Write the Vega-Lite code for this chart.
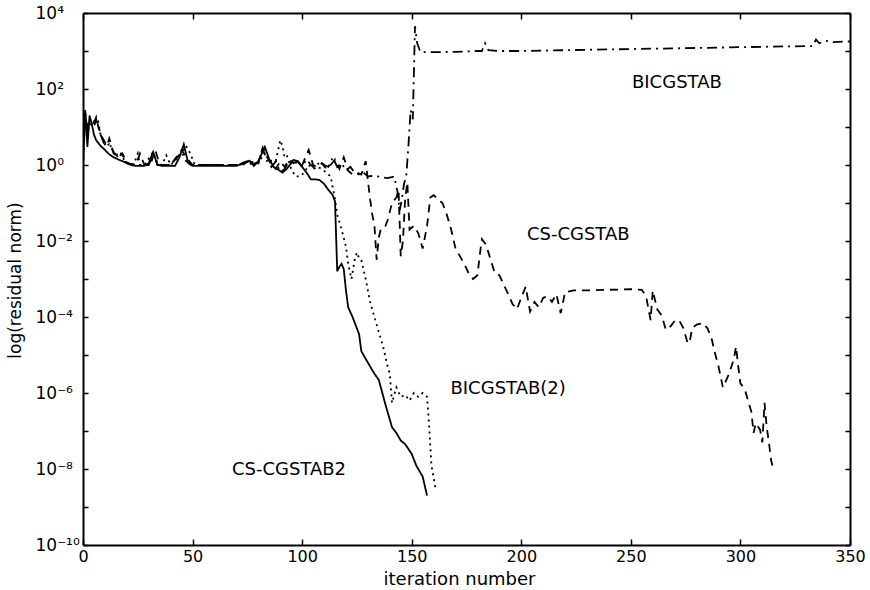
{
  "$schema": "https://vega.github.io/schema/vega-lite/v6.json",
  "width": 767,
  "height": 532,
  "autosize": {"type": "none"},
  "padding": {"left": 83, "top": 13, "right": 20, "bottom": 45},
  "background": "white",
  "config": {
    "view": {"stroke": null},
    "font": "DejaVu Sans",
    "axis": {
      "labelFont": "DejaVu Sans",
      "titleFont": "DejaVu Sans",
      "labelColor": "black",
      "titleColor": "black",
      "domainColor": "black",
      "domainWidth": 2,
      "tickColor": "black",
      "tickWidth": 1.5,
      "grid": false,
      "titleFontWeight": "normal"
    }
  },
  "datasets": {
    "curves": [
      {"s":"CS-CGSTAB2","it":0,"v":1},{"s":"CS-CGSTAB2","it":1,"v":28},{"s":"CS-CGSTAB2","it":2,"v":3},{"s":"CS-CGSTAB2","it":3,"v":20},{"s":"CS-CGSTAB2","it":4,"v":12},{"s":"CS-CGSTAB2","it":5,"v":6.3},{"s":"CS-CGSTAB2","it":6,"v":4.5},{"s":"CS-CGSTAB2","it":8,"v":3.2},{"s":"CS-CGSTAB2","it":10,"v":2.5},{"s":"CS-CGSTAB2","it":12,"v":1.9},{"s":"CS-CGSTAB2","it":14,"v":1.6},{"s":"CS-CGSTAB2","it":16,"v":1.4},{"s":"CS-CGSTAB2","it":18,"v":1.26},{"s":"CS-CGSTAB2","it":20,"v":1.12},{"s":"CS-CGSTAB2","it":22,"v":1},{"s":"CS-CGSTAB2","it":24,"v":0.95},{"s":"CS-CGSTAB2","it":28,"v":0.95},{"s":"CS-CGSTAB2","it":30,"v":1.12},{"s":"CS-CGSTAB2","it":32,"v":2.2},{"s":"CS-CGSTAB2","it":34,"v":1},{"s":"CS-CGSTAB2","it":36,"v":0.95},{"s":"CS-CGSTAB2","it":42,"v":0.95},{"s":"CS-CGSTAB2","it":44,"v":1.6},{"s":"CS-CGSTAB2","it":46,"v":3.5},{"s":"CS-CGSTAB2","it":48,"v":1.12},{"s":"CS-CGSTAB2","it":50,"v":0.95},{"s":"CS-CGSTAB2","it":60,"v":0.95},{"s":"CS-CGSTAB2","it":70,"v":0.95},{"s":"CS-CGSTAB2","it":74,"v":1.12},{"s":"CS-CGSTAB2","it":76,"v":1.3},{"s":"CS-CGSTAB2","it":78,"v":0.95},{"s":"CS-CGSTAB2","it":80,"v":1.26},{"s":"CS-CGSTAB2","it":83,"v":3.0},{"s":"CS-CGSTAB2","it":85,"v":1.4},{"s":"CS-CGSTAB2","it":87,"v":0.89},{"s":"CS-CGSTAB2","it":89,"v":0.76},{"s":"CS-CGSTAB2","it":91,"v":0.63},{"s":"CS-CGSTAB2","it":93,"v":0.79},{"s":"CS-CGSTAB2","it":96,"v":1.35},{"s":"CS-CGSTAB2","it":98,"v":1.26},{"s":"CS-CGSTAB2","it":100,"v":0.89},{"s":"CS-CGSTAB2","it":102,"v":0.63},{"s":"CS-CGSTAB2","it":104,"v":0.42},{"s":"CS-CGSTAB2","it":106,"v":0.42},{"s":"CS-CGSTAB2","it":108,"v":0.4},{"s":"CS-CGSTAB2","it":110,"v":0.32},{"s":"CS-CGSTAB2","it":112,"v":0.22},{"s":"CS-CGSTAB2","it":114,"v":0.16},{"s":"CS-CGSTAB2","it":115,"v":0.11},{"s":"CS-CGSTAB2","it":116,"v":0.0016},{"s":"CS-CGSTAB2","it":117,"v":0.0021},{"s":"CS-CGSTAB2","it":118,"v":0.0025},{"s":"CS-CGSTAB2","it":119,"v":0.0018},{"s":"CS-CGSTAB2","it":120,"v":5e-4},{"s":"CS-CGSTAB2","it":121,"v":1.8e-4},{"s":"CS-CGSTAB2","it":123,"v":1e-4},{"s":"CS-CGSTAB2","it":125,"v":5e-5},{"s":"CS-CGSTAB2","it":126,"v":3.5e-5},{"s":"CS-CGSTAB2","it":127,"v":1.26e-5},{"s":"CS-CGSTAB2","it":130,"v":6.3e-6},{"s":"CS-CGSTAB2","it":133,"v":3.2e-6},{"s":"CS-CGSTAB2","it":135,"v":2.2e-6},{"s":"CS-CGSTAB2","it":138,"v":5e-7},{"s":"CS-CGSTAB2","it":141,"v":1.26e-7},{"s":"CS-CGSTAB2","it":143,"v":8.9e-8},{"s":"CS-CGSTAB2","it":145,"v":5.6e-8},{"s":"CS-CGSTAB2","it":147,"v":4.5e-8},{"s":"CS-CGSTAB2","it":150,"v":2.5e-8},{"s":"CS-CGSTAB2","it":152,"v":1.26e-8},{"s":"CS-CGSTAB2","it":154,"v":7.9e-9},{"s":"CS-CGSTAB2","it":155,"v":6.3e-9},{"s":"CS-CGSTAB2","it":157,"v":2e-9},

      {"s":"BICGSTAB(2)","it":0,"v":20},{"s":"BICGSTAB(2)","it":1,"v":25},{"s":"BICGSTAB(2)","it":2,"v":7.9},{"s":"BICGSTAB(2)","it":3,"v":16},{"s":"BICGSTAB(2)","it":4,"v":12.6},{"s":"BICGSTAB(2)","it":6,"v":16},{"s":"BICGSTAB(2)","it":7,"v":14},{"s":"BICGSTAB(2)","it":8,"v":6.3},{"s":"BICGSTAB(2)","it":10,"v":3.5},{"s":"BICGSTAB(2)","it":12,"v":4.5},{"s":"BICGSTAB(2)","it":13,"v":2.5},{"s":"BICGSTAB(2)","it":15,"v":1.8},{"s":"BICGSTAB(2)","it":17,"v":2.2},{"s":"BICGSTAB(2)","it":19,"v":1.26},{"s":"BICGSTAB(2)","it":21,"v":1.12},{"s":"BICGSTAB(2)","it":23,"v":1},{"s":"BICGSTAB(2)","it":25,"v":2},{"s":"BICGSTAB(2)","it":26,"v":1},{"s":"BICGSTAB(2)","it":28,"v":1},{"s":"BICGSTAB(2)","it":32,"v":2.2},{"s":"BICGSTAB(2)","it":34,"v":1.12},{"s":"BICGSTAB(2)","it":36,"v":1},{"s":"BICGSTAB(2)","it":38,"v":1.8},{"s":"BICGSTAB(2)","it":40,"v":1},{"s":"BICGSTAB(2)","it":45,"v":2},{"s":"BICGSTAB(2)","it":47,"v":3.2},{"s":"BICGSTAB(2)","it":49,"v":2},{"s":"BICGSTAB(2)","it":51,"v":1},{"s":"BICGSTAB(2)","it":60,"v":1},{"s":"BICGSTAB(2)","it":70,"v":1},{"s":"BICGSTAB(2)","it":76,"v":1.26},{"s":"BICGSTAB(2)","it":80,"v":1.12},{"s":"BICGSTAB(2)","it":83,"v":2.2},{"s":"BICGSTAB(2)","it":86,"v":1.26},{"s":"BICGSTAB(2)","it":88,"v":1.26},{"s":"BICGSTAB(2)","it":90,"v":4.5},{"s":"BICGSTAB(2)","it":91,"v":3.2},{"s":"BICGSTAB(2)","it":92,"v":1.6},{"s":"BICGSTAB(2)","it":93,"v":1.8},{"s":"BICGSTAB(2)","it":95,"v":0.79},{"s":"BICGSTAB(2)","it":97,"v":0.5},{"s":"BICGSTAB(2)","it":99,"v":0.5},{"s":"BICGSTAB(2)","it":101,"v":0.63},{"s":"BICGSTAB(2)","it":103,"v":1},{"s":"BICGSTAB(2)","it":105,"v":0.79},{"s":"BICGSTAB(2)","it":107,"v":0.89},{"s":"BICGSTAB(2)","it":109,"v":0.79},{"s":"BICGSTAB(2)","it":111,"v":0.63},{"s":"BICGSTAB(2)","it":113,"v":0.5},{"s":"BICGSTAB(2)","it":114,"v":0.25},{"s":"BICGSTAB(2)","it":115,"v":0.126},{"s":"BICGSTAB(2)","it":116,"v":0.05},{"s":"BICGSTAB(2)","it":118,"v":0.02},{"s":"BICGSTAB(2)","it":120,"v":0.0071},{"s":"BICGSTAB(2)","it":121,"v":0.0025},{"s":"BICGSTAB(2)","it":122.5,"v":0.001},{"s":"BICGSTAB(2)","it":124,"v":0.0032},{"s":"BICGSTAB(2)","it":125,"v":0.005},{"s":"BICGSTAB(2)","it":126,"v":0.0035},{"s":"BICGSTAB(2)","it":127,"v":0.0032},{"s":"BICGSTAB(2)","it":129,"v":0.001},{"s":"BICGSTAB(2)","it":131,"v":2.5e-4},{"s":"BICGSTAB(2)","it":133,"v":1e-4},{"s":"BICGSTAB(2)","it":135,"v":4e-5},{"s":"BICGSTAB(2)","it":137,"v":1.6e-5},{"s":"BICGSTAB(2)","it":139,"v":5e-6},{"s":"BICGSTAB(2)","it":140,"v":3.2e-6},{"s":"BICGSTAB(2)","it":141,"v":5.5e-7},{"s":"BICGSTAB(2)","it":143,"v":1.4e-6},{"s":"BICGSTAB(2)","it":145,"v":7.9e-7},{"s":"BICGSTAB(2)","it":147,"v":8.9e-7},{"s":"BICGSTAB(2)","it":149,"v":6.3e-7},{"s":"BICGSTAB(2)","it":151,"v":1e-6},{"s":"BICGSTAB(2)","it":153,"v":7.9e-7},{"s":"BICGSTAB(2)","it":155,"v":1e-6},{"s":"BICGSTAB(2)","it":157,"v":7.9e-7},{"s":"BICGSTAB(2)","it":158,"v":1.26e-7},{"s":"BICGSTAB(2)","it":159,"v":1.26e-8},{"s":"BICGSTAB(2)","it":161,"v":2.8e-9},

      {"s":"CS-CGSTAB","it":0,"v":16},{"s":"CS-CGSTAB","it":1,"v":22},{"s":"CS-CGSTAB","it":2,"v":10},{"s":"CS-CGSTAB","it":3,"v":14},{"s":"CS-CGSTAB","it":5,"v":12.6},{"s":"CS-CGSTAB","it":6,"v":18},{"s":"CS-CGSTAB","it":7,"v":10},{"s":"CS-CGSTAB","it":9,"v":5},{"s":"CS-CGSTAB","it":11,"v":3.2},{"s":"CS-CGSTAB","it":12,"v":5},{"s":"CS-CGSTAB","it":14,"v":2},{"s":"CS-CGSTAB","it":16,"v":1.6},{"s":"CS-CGSTAB","it":18,"v":2},{"s":"CS-CGSTAB","it":20,"v":1.12},{"s":"CS-CGSTAB","it":24,"v":1},{"s":"CS-CGSTAB","it":26,"v":2},{"s":"CS-CGSTAB","it":28,"v":1},{"s":"CS-CGSTAB","it":31,"v":1.12},{"s":"CS-CGSTAB","it":33,"v":2.5},{"s":"CS-CGSTAB","it":35,"v":1},{"s":"CS-CGSTAB","it":40,"v":1},{"s":"CS-CGSTAB","it":45,"v":2.5},{"s":"CS-CGSTAB","it":47,"v":1.6},{"s":"CS-CGSTAB","it":50,"v":1},{"s":"CS-CGSTAB","it":55,"v":1},{"s":"CS-CGSTAB","it":60,"v":1},{"s":"CS-CGSTAB","it":70,"v":1},{"s":"CS-CGSTAB","it":75,"v":1.26},{"s":"CS-CGSTAB","it":80,"v":1.12},{"s":"CS-CGSTAB","it":82,"v":2.8},{"s":"CS-CGSTAB","it":84,"v":1.6},{"s":"CS-CGSTAB","it":86,"v":1},{"s":"CS-CGSTAB","it":88,"v":0.79},{"s":"CS-CGSTAB","it":90,"v":1.26},{"s":"CS-CGSTAB","it":92,"v":0.89},{"s":"CS-CGSTAB","it":94,"v":1.4},{"s":"CS-CGSTAB","it":96,"v":1.12},{"s":"CS-CGSTAB","it":98,"v":1.26},{"s":"CS-CGSTAB","it":100,"v":1},{"s":"CS-CGSTAB","it":103,"v":2.5},{"s":"CS-CGSTAB","it":105,"v":1},{"s":"CS-CGSTAB","it":107,"v":0.89},{"s":"CS-CGSTAB","it":109,"v":1.12},{"s":"CS-CGSTAB","it":111,"v":0.79},{"s":"CS-CGSTAB","it":113,"v":1},{"s":"CS-CGSTAB","it":115,"v":1.4},{"s":"CS-CGSTAB","it":117,"v":0.79},{"s":"CS-CGSTAB","it":119,"v":1.6},{"s":"CS-CGSTAB","it":121,"v":0.71},{"s":"CS-CGSTAB","it":123,"v":0.56},{"s":"CS-CGSTAB","it":125,"v":0.63},{"s":"CS-CGSTAB","it":127,"v":0.56},{"s":"CS-CGSTAB","it":129,"v":1.26},{"s":"CS-CGSTAB","it":130,"v":0.4},{"s":"CS-CGSTAB","it":131,"v":0.126},{"s":"CS-CGSTAB","it":132,"v":0.05},{"s":"CS-CGSTAB","it":133,"v":0.025},{"s":"CS-CGSTAB","it":134,"v":0.0032},{"s":"CS-CGSTAB","it":135,"v":0.0126},{"s":"CS-CGSTAB","it":136,"v":0.022},{"s":"CS-CGSTAB","it":138,"v":0.025},{"s":"CS-CGSTAB","it":139,"v":0.035},{"s":"CS-CGSTAB","it":141,"v":0.1},{"s":"CS-CGSTAB","it":143,"v":0.14},{"s":"CS-CGSTAB","it":144,"v":0.22},{"s":"CS-CGSTAB","it":145,"v":0.004},{"s":"CS-CGSTAB","it":146,"v":0.01},{"s":"CS-CGSTAB","it":147,"v":0.126},{"s":"CS-CGSTAB","it":148,"v":0.35},{"s":"CS-CGSTAB","it":149,"v":0.02},{"s":"CS-CGSTAB","it":151,"v":0.025},{"s":"CS-CGSTAB","it":153,"v":0.016},{"s":"CS-CGSTAB","it":155,"v":0.0063},{"s":"CS-CGSTAB","it":157,"v":0.025},{"s":"CS-CGSTAB","it":158.5,"v":0.14},{"s":"CS-CGSTAB","it":160,"v":0.16},{"s":"CS-CGSTAB","it":162,"v":0.126},{"s":"CS-CGSTAB","it":164,"v":0.1},{"s":"CS-CGSTAB","it":166,"v":0.05},{"s":"CS-CGSTAB","it":168,"v":0.02},{"s":"CS-CGSTAB","it":170,"v":0.0063},{"s":"CS-CGSTAB","it":172,"v":0.004},{"s":"CS-CGSTAB","it":174,"v":0.0025},{"s":"CS-CGSTAB","it":176,"v":0.0014},{"s":"CS-CGSTAB","it":178,"v":0.001},{"s":"CS-CGSTAB","it":180,"v":0.00126},{"s":"CS-CGSTAB","it":181,"v":0.004},{"s":"CS-CGSTAB","it":182,"v":0.0112},{"s":"CS-CGSTAB","it":184,"v":0.0079},{"s":"CS-CGSTAB","it":186,"v":0.0032},{"s":"CS-CGSTAB","it":188,"v":0.0014},{"s":"CS-CGSTAB","it":190,"v":0.00126},{"s":"CS-CGSTAB","it":192,"v":7.1e-4},{"s":"CS-CGSTAB","it":194,"v":4e-4},{"s":"CS-CGSTAB","it":196,"v":2.2e-4},{"s":"CS-CGSTAB","it":198,"v":1.6e-4},{"s":"CS-CGSTAB","it":200,"v":3.2e-4},{"s":"CS-CGSTAB","it":202,"v":6.3e-4},{"s":"CS-CGSTAB","it":204,"v":1.4e-4},{"s":"CS-CGSTAB","it":206,"v":2.5e-4},{"s":"CS-CGSTAB","it":208,"v":1.8e-4},{"s":"CS-CGSTAB","it":210,"v":3.2e-4},{"s":"CS-CGSTAB","it":212,"v":3.5e-4},{"s":"CS-CGSTAB","it":214,"v":2.5e-4},{"s":"CS-CGSTAB","it":216,"v":4e-4},{"s":"CS-CGSTAB","it":218,"v":1.26e-4},{"s":"CS-CGSTAB","it":220,"v":4.5e-4},{"s":"CS-CGSTAB","it":224,"v":5e-4},{"s":"CS-CGSTAB","it":230,"v":5e-4},{"s":"CS-CGSTAB","it":240,"v":5.2e-4},{"s":"CS-CGSTAB","it":250,"v":5.4e-4},{"s":"CS-CGSTAB","it":255,"v":5.2e-4},{"s":"CS-CGSTAB","it":257,"v":3.4e-4},{"s":"CS-CGSTAB","it":259,"v":8.3e-5},{"s":"CS-CGSTAB","it":260,"v":5e-4},{"s":"CS-CGSTAB","it":262,"v":1.6e-4},{"s":"CS-CGSTAB","it":264,"v":1.12e-4},{"s":"CS-CGSTAB","it":266,"v":4.6e-5},{"s":"CS-CGSTAB","it":268,"v":5.6e-5},{"s":"CS-CGSTAB","it":270,"v":7.9e-5},{"s":"CS-CGSTAB","it":272,"v":8.3e-5},{"s":"CS-CGSTAB","it":274,"v":5e-5},{"s":"CS-CGSTAB","it":276,"v":2e-5},{"s":"CS-CGSTAB","it":277,"v":2.5e-5},{"s":"CS-CGSTAB","it":278,"v":5.1e-5},{"s":"CS-CGSTAB","it":280,"v":6.3e-5},{"s":"CS-CGSTAB","it":283,"v":6.9e-5},{"s":"CS-CGSTAB","it":285,"v":5e-5},{"s":"CS-CGSTAB","it":287,"v":2.5e-5},{"s":"CS-CGSTAB","it":288,"v":1.35e-5},{"s":"CS-CGSTAB","it":290,"v":5e-6},{"s":"CS-CGSTAB","it":292,"v":1.4e-6},{"s":"CS-CGSTAB","it":294,"v":2.5e-6},{"s":"CS-CGSTAB","it":295,"v":3.4e-6},{"s":"CS-CGSTAB","it":297,"v":7.9e-6},{"s":"CS-CGSTAB","it":298,"v":1.66e-5},{"s":"CS-CGSTAB","it":299,"v":5e-6},{"s":"CS-CGSTAB","it":300,"v":1.8e-6},{"s":"CS-CGSTAB","it":302,"v":1.26e-6},{"s":"CS-CGSTAB","it":303,"v":7.9e-7},{"s":"CS-CGSTAB","it":305,"v":3.2e-7},{"s":"CS-CGSTAB","it":306,"v":8.9e-8},{"s":"CS-CGSTAB","it":307,"v":1.6e-7},{"s":"CS-CGSTAB","it":309,"v":1.07e-7},{"s":"CS-CGSTAB","it":310,"v":5e-8},{"s":"CS-CGSTAB","it":311,"v":5.5e-7},{"s":"CS-CGSTAB","it":312,"v":1.26e-7},{"s":"CS-CGSTAB","it":313,"v":5e-8},{"s":"CS-CGSTAB","it":314,"v":1.7e-8},{"s":"CS-CGSTAB","it":315,"v":1e-8},

      {"s":"BICGSTAB","it":0,"v":1},{"s":"BICGSTAB","it":1,"v":20},{"s":"BICGSTAB","it":2,"v":6.3},{"s":"BICGSTAB","it":3,"v":12.6},{"s":"BICGSTAB","it":5,"v":10},{"s":"BICGSTAB","it":6,"v":16},{"s":"BICGSTAB","it":8,"v":6.3},{"s":"BICGSTAB","it":10,"v":3.2},{"s":"BICGSTAB","it":12,"v":3.5},{"s":"BICGSTAB","it":14,"v":2.2},{"s":"BICGSTAB","it":16,"v":1.6},{"s":"BICGSTAB","it":18,"v":1.8},{"s":"BICGSTAB","it":20,"v":1.12},{"s":"BICGSTAB","it":24,"v":1},{"s":"BICGSTAB","it":30,"v":1},{"s":"BICGSTAB","it":32,"v":2},{"s":"BICGSTAB","it":34,"v":1},{"s":"BICGSTAB","it":40,"v":1},{"s":"BICGSTAB","it":45,"v":2.2},{"s":"BICGSTAB","it":47,"v":1.26},{"s":"BICGSTAB","it":50,"v":1},{"s":"BICGSTAB","it":60,"v":1},{"s":"BICGSTAB","it":70,"v":1},{"s":"BICGSTAB","it":80,"v":1.12},{"s":"BICGSTAB","it":82,"v":2.8},{"s":"BICGSTAB","it":84,"v":1.26},{"s":"BICGSTAB","it":86,"v":0.89},{"s":"BICGSTAB","it":88,"v":1.26},{"s":"BICGSTAB","it":90,"v":0.63},{"s":"BICGSTAB","it":92,"v":0.79},{"s":"BICGSTAB","it":94,"v":1.26},{"s":"BICGSTAB","it":96,"v":1},{"s":"BICGSTAB","it":98,"v":1.26},{"s":"BICGSTAB","it":100,"v":0.89},{"s":"BICGSTAB","it":102,"v":1.4},{"s":"BICGSTAB","it":104,"v":1},{"s":"BICGSTAB","it":106,"v":0.79},{"s":"BICGSTAB","it":108,"v":1.26},{"s":"BICGSTAB","it":110,"v":1},{"s":"BICGSTAB","it":112,"v":0.89},{"s":"BICGSTAB","it":114,"v":1.6},{"s":"BICGSTAB","it":116,"v":0.89},{"s":"BICGSTAB","it":118,"v":1.12},{"s":"BICGSTAB","it":120,"v":0.71},{"s":"BICGSTAB","it":122,"v":0.89},{"s":"BICGSTAB","it":124,"v":0.63},{"s":"BICGSTAB","it":126,"v":0.56},{"s":"BICGSTAB","it":128,"v":0.63},{"s":"BICGSTAB","it":130,"v":0.5},{"s":"BICGSTAB","it":133,"v":0.52},{"s":"BICGSTAB","it":136,"v":0.48},{"s":"BICGSTAB","it":139,"v":0.45},{"s":"BICGSTAB","it":142,"v":0.5},{"s":"BICGSTAB","it":143.5,"v":0.2},{"s":"BICGSTAB","it":144.5,"v":0.063},{"s":"BICGSTAB","it":145.5,"v":0.126},{"s":"BICGSTAB","it":146.5,"v":0.32},{"s":"BICGSTAB","it":147.5,"v":0.5},{"s":"BICGSTAB","it":148.5,"v":3.2},{"s":"BICGSTAB","it":149.5,"v":28},{"s":"BICGSTAB","it":150.5,"v":16},{"s":"BICGSTAB","it":151.5,"v":4500},{"s":"BICGSTAB","it":152.5,"v":1600},{"s":"BICGSTAB","it":154,"v":930},{"s":"BICGSTAB","it":160,"v":930},{"s":"BICGSTAB","it":170,"v":950},{"s":"BICGSTAB","it":180,"v":1000},{"s":"BICGSTAB","it":182,"v":1000},{"s":"BICGSTAB","it":183.5,"v":1600},{"s":"BICGSTAB","it":185,"v":1050},{"s":"BICGSTAB","it":190,"v":1000},{"s":"BICGSTAB","it":200,"v":1000},{"s":"BICGSTAB","it":220,"v":1050},{"s":"BICGSTAB","it":240,"v":1100},{"s":"BICGSTAB","it":260,"v":1150},{"s":"BICGSTAB","it":280,"v":1200},{"s":"BICGSTAB","it":300,"v":1260},{"s":"BICGSTAB","it":320,"v":1320},{"s":"BICGSTAB","it":333,"v":1350},{"s":"BICGSTAB","it":334.5,"v":2000},{"s":"BICGSTAB","it":336,"v":1600},{"s":"BICGSTAB","it":339,"v":1860},{"s":"BICGSTAB","it":342,"v":1700},{"s":"BICGSTAB","it":348,"v":1780},{"s":"BICGSTAB","it":350,"v":1780}
    ],
    "labels": [
      {"label": "BICGSTAB", "it": 271, "v": 145},
      {"label": "CS-CGSTAB", "it": 226, "v": 0.0145},
      {"label": "BICGSTAB(2)", "it": 194, "v": 1.26e-6},
      {"label": "CS-CGSTAB2", "it": 94, "v": 9.3e-9}
    ]
  },
  "layer": [
    {
      "data": {"name": "curves"},
      "mark": {"type": "line", "color": "black", "strokeWidth": 1.8, "clip": true},
      "encoding": {
        "x": {
          "field": "it", "type": "quantitative",
          "scale": {"domain": [0, 350], "nice": false, "zero": false},
          "axis": {
            "orient": "bottom",
            "values": [0, 50, 100, 150, 200, 250, 300, 350],
            "format": "d",
            "labelFontSize": 16,
            "labelPadding": 9,
            "labelFlush": false,
            "tickSize": -6,
            "title": "iteration number",
            "titleFontSize": 18,
            "titleX": 376,
            "titleY": 25,
            "titleBaseline": "top"
          }
        },
        "y": {
          "field": "v", "type": "quantitative",
          "scale": {"type": "log", "domain": [1e-10, 10000], "nice": false},
          "axis": {
            "orient": "left",
            "values": [1e-10, 1e-9, 1e-8, 1e-7, 1e-6, 1e-5, 1e-4, 1e-3, 0.01, 0.1, 1, 10, 100, 1000, 10000],
            "labelExpr": "datum.value > 5000 ? '10⁴' : datum.value > 500 ? '' : datum.value > 50 ? '10²' : datum.value > 5 ? '' : datum.value > 0.5 ? '10⁰' : datum.value > 0.05 ? '' : datum.value > 0.005 ? '10⁻²' : datum.value > 0.0005 ? '' : datum.value > 0.00005 ? '10⁻⁴' : datum.value > 0.000005 ? '' : datum.value > 0.0000005 ? '10⁻⁶' : datum.value > 0.00000005 ? '' : datum.value > 0.000000005 ? '10⁻⁸' : datum.value > 0.0000000005 ? '' : '10⁻¹⁰'",
            "labelAlign": "left",
            "labelPadding": 53,
            "labelFontSize": 17,
            "labelFlush": false,
            "labelOverlap": false,
            "tickSize": -5,
            "title": "log(residual norm)",
            "titleFontSize": 17,
            "titleAngle": -90,
            "titleX": -68,
            "titleY": 267,
            "titleAlign": "center",
            "titleBaseline": "middle"
          }
        },
        "strokeDash": {
          "field": "s", "type": "nominal",
          "scale": {
            "domain": ["CS-CGSTAB2", "BICGSTAB(2)", "CS-CGSTAB", "BICGSTAB"],
            "range": [[1, 0], [2, 4], [8, 6], [10, 5, 2, 5]]
          },
          "legend": null
        }
      }
    },
    {
      "data": {"name": "labels"},
      "mark": {"type": "text", "fontSize": 18, "font": "DejaVu Sans", "color": "black", "align": "center", "baseline": "middle"},
      "encoding": {
        "x": {
          "field": "it", "type": "quantitative",
          "axis": {
            "orient": "top",
            "values": [0, 50, 100, 150, 200, 250, 300, 350],
            "labels": false,
            "title": null,
            "tickSize": -6
          }
        },
        "y": {
          "field": "v", "type": "quantitative",
          "axis": {
            "orient": "right",
            "values": [1e-10, 1e-9, 1e-8, 1e-7, 1e-6, 1e-5, 1e-4, 1e-3, 0.01, 0.1, 1, 10, 100, 1000, 10000],
            "labels": false,
            "title": null,
            "tickSize": -5
          }
        },
        "text": {"field": "label", "type": "nominal"}
      }
    }
  ],
  "resolve": {"axis": {"x": "independent", "y": "independent"}}
}
